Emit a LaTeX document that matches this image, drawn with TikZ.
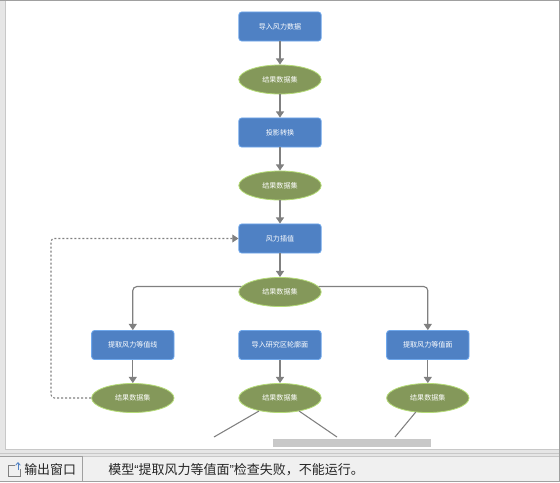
\documentclass[tikz,border=0pt]{standalone}
\usepackage{fontspec}
\newfontfamily\cjk{Noto Sans CJK SC}
\newfontfamily\latinq{Liberation Sans}
\usetikzlibrary{shapes.geometric, arrows.meta}
\definecolor{boxblue}{HTML}{4F81C4}
\definecolor{boxedge}{HTML}{6FA8EC}
\definecolor{ovalgreen}{HTML}{84985A}
\definecolor{ovaledge}{HTML}{B5DC78}
\definecolor{linkgrey}{HTML}{808080}
\definecolor{barfill}{HTML}{F0F0F0}
\definecolor{panelgrey}{HTML}{E6E6E6}
\definecolor{rulegrey}{HTML}{A0A0A0}
\definecolor{softgrey}{HTML}{C8C8C8}
\tikzset{
  toolbox/.style={rectangle, rounded corners=2.2pt, draw=boxedge, fill=boxblue, line width=0.6pt, text=white, font=\cjk\fontsize{5.3}{6}\selectfont, minimum width=61.8pt, minimum height=21.8pt, inner sep=0pt},
  dataset/.style={ellipse, draw=ovaledge, fill=ovalgreen, line width=0.6pt, text=white, font=\cjk\fontsize{5.3}{6}\selectfont, minimum width=61.8pt, minimum height=21.8pt, inner sep=0pt},
  link/.style={draw=linkgrey, line width=0.85pt, -{Triangle[length=4.6pt,width=6pt]}},
  cutlink/.style={draw=linkgrey, line width=0.8pt},
  backlink/.style={draw=linkgrey, line width=0.8pt, dash pattern=on 1.5pt off 1.5pt, rounded corners=2.5pt, -{Triangle[length=4.6pt,width=6pt]}}
}
\begin{document}
\begin{tikzpicture}[x=0.75pt,y=-0.75pt]
\useasboundingbox (0,0) rectangle (560,482);
% window
\fill[panelgrey] (0,0) rectangle (560,482);
\fill[white] (5,1) rectangle (558.5,449);
\draw[softgrey, line width=0.75pt] (5.5,1) -- (5.5,449.5) -- (558.5,449.5);
\draw[softgrey, line width=0.75pt] (0,453.5) -- (558.5,453.5);
\fill[barfill] (0,456) rectangle (560,482);
\draw[softgrey, line width=0.75pt] (0,456) -- (560,456);
\draw[rulegrey, line width=1pt] (0,0.5) -- (560,0.5);
\draw[rulegrey, line width=1pt] (559.3,0) -- (559.3,482);
\draw[rulegrey, line width=1pt] (0,481.3) -- (560,481.3);
\draw[rulegrey, line width=0.75pt] (0,456.8) -- (82.5,456.8) -- (82.5,481);
\fill[softgrey] (273,439) rectangle (431,447);
% tools and datasets
\node[toolbox] (import) at (280,26.5) {导入风力数据};
\node[dataset] (result1) at (280,79.5) {结果数据集};
\node[toolbox] (project) at (280,132.5) {投影转换};
\node[dataset] (result2) at (280,185.5) {结果数据集};
\node[toolbox] (interp) at (280,238.5) {风力插值};
\node[dataset] (result3) at (280,292) {结果数据集};
\node[toolbox] (isoline) at (132.8,345) {提取风力等值线};
\node[toolbox] (outline) at (280,345) {导入研究区轮廓面};
\node[toolbox] (isoface) at (427.8,345) {提取风力等值面};
\node[dataset] (result4) at (132.8,398) {结果数据集};
\node[dataset] (result5) at (280,398) {结果数据集};
\node[dataset] (result6) at (427.8,398) {结果数据集};
\coordinate (cutA) at (214,437);
\coordinate (cutB) at (337,437);
\coordinate (cutC) at (395,437);
\coordinate (bendL) at (51,398);
\coordinate (bendT) at (51,238.5);
% links
\draw[link] (import) -- (result1);
\draw[link] (result1) -- (project);
\draw[link] (project) -- (result2);
\draw[link] (result2) -- (interp);
\draw[link] (interp) -- (result3);
\draw[link] (isoline) -- (result4);
\draw[link] (outline) -- (result5);
\draw[link] (isoface) -- (result6);
\draw[link, rounded corners=3pt] (result3.172) -| (isoline.north);
\draw[link, rounded corners=3pt] (result3.8) -| (isoface.north);
\draw[backlink] (result4.west) -- (bendL) -- (bendT) -- (interp.west);
\draw[cutlink] (result5) ++(-21,13) coordinate (startA) (startA) -- (cutA);
\draw[cutlink] (result5) ++(19,13) coordinate (startB) (startB) -- (cutB);
\draw[cutlink] (result6) ++(-12,14) coordinate (startC) (startC) -- (cutC);
% status bar
\draw[linkgrey, line width=0.6pt] (15,465) -- (8,465) -- (8,476) -- (20,476) -- (20,469);
\draw[boxblue, line width=0.6pt, -{Straight Barb[length=2pt,width=3.5pt]}] (18,470) -- (18,462);
\node[font=\cjk\fontsize{9.7}{11}\selectfont, text=black!85, inner sep=0pt, anchor=west] (tabname) at (24,470) {输出窗口};
\node[font=\cjk\fontsize{9.75}{11}\selectfont, text=black!85, inner sep=0pt, anchor=west] (message) at (108,470) {模型{\latinq “}提取风力等值面{\latinq ”}检查失败，不能运行。};
\end{tikzpicture}
\end{document}
